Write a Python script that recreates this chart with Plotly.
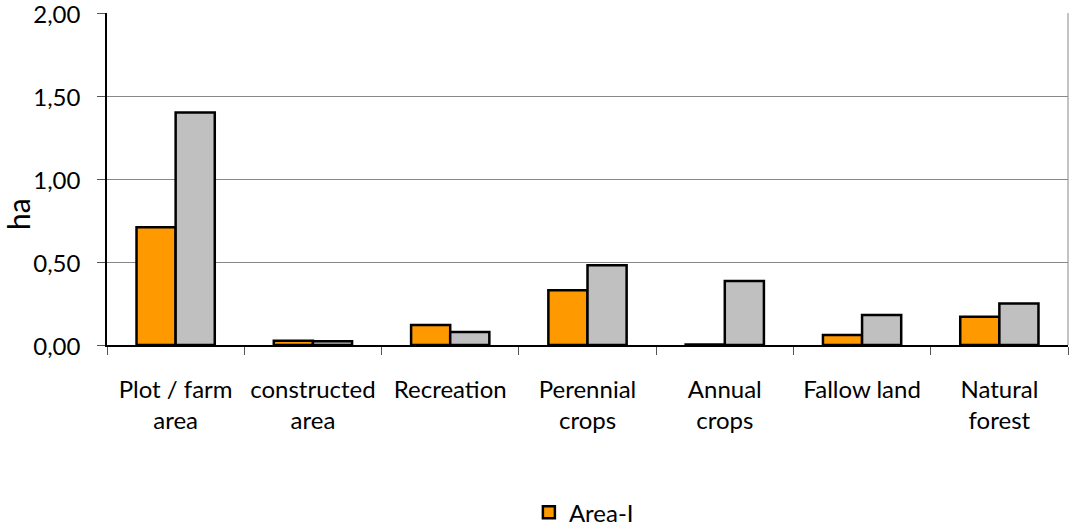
import plotly.graph_objects as go

categories = ["Plot / farm<br>area", "constructed<br>area", "Recreation", "Perennial<br>crops",
              "Annual<br>crops", "Fallow land", "Natural<br>forest"]
area_1 = [0.71, 0.025, 0.12, 0.33, 0.003, 0.06, 0.17]
area_2 = [1.40, 0.022, 0.078, 0.48, 0.385, 0.18, 0.25]
y_ticks = [0, 0.5, 1.0, 1.5, 2.0]

FONT = "Lato, 'Open Sans', sans-serif"

fig = go.Figure()
fig.add_trace(go.Bar(x=categories, y=area_1, name="Area-I",
                     marker=dict(color="#FF9900", line=dict(color="black", width=2.5))))
fig.add_trace(go.Bar(x=categories, y=area_2, name="Area-II", showlegend=False,
                     marker=dict(color="#C0C0C0", line=dict(color="black", width=2.5))))

fig.update_layout(
    width=1071, height=526,
    margin=dict(l=107, r=3, t=13, b=181, autoexpand=False),
    paper_bgcolor="white", plot_bgcolor="white",
    separators=",.",
    barmode="group", bargap=0.43, bargroupgap=0,
    font=dict(family=FONT, size=24, color="black"),
    showlegend=True,
    legend=dict(orientation="h", x=0.439, xanchor="left", y=-0.505, yanchor="middle",
                font=dict(size=24), itemwidth=30),
    xaxis=dict(showline=True, linecolor="black", linewidth=1.5, automargin=False,
               ticks="outside", tickson="boundaries", ticklen=8, tickcolor="#555",
               tickfont=dict(size=24), ticklabelstandoff=22, mirror=False),
    yaxis=dict(range=[0, 2.0], tickvals=y_ticks, tickformat=".2f", automargin=False,
               showgrid=True, gridcolor="#888", gridwidth=1,
               showline=True, linecolor="black", linewidth=1.5,
               ticks="outside", ticklen=8, tickcolor="#555", ticklabeloverflow="allow",
               tickfont=dict(size=24), ticklabelstandoff=12, ticklabelshift=2,
               zeroline=False),
    annotations=[dict(text="ha", textangle=-90, xref="paper", yref="paper",
                      x=-0.0925, y=0.395, xanchor="center", yanchor="middle",
                      showarrow=False, borderpad=0, font=dict(size=30))],
    shapes=[dict(type="line", xref="paper", yref="paper", x0=1, x1=1, y0=0, y1=1,
                 line=dict(color="#888", width=1))],
)

fig.write_html("out.html", config={"displayModeBar": False},
               post_script="document.body.style.margin='0';")
